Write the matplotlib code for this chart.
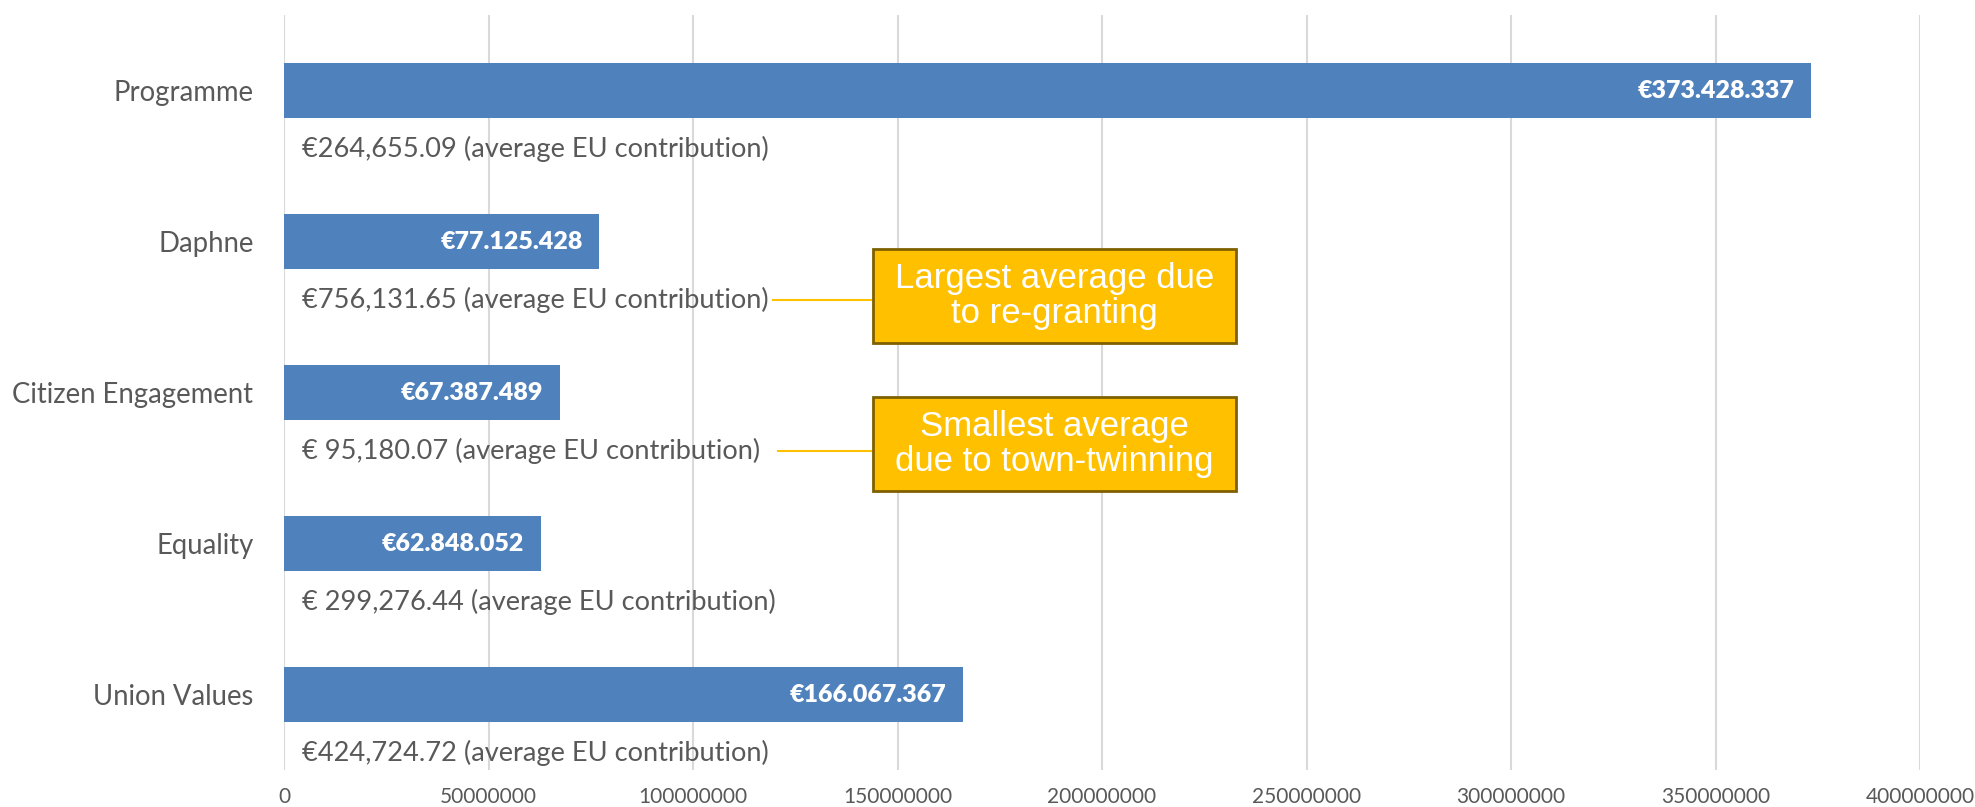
import matplotlib
matplotlib.use('Agg')
import matplotlib.pyplot as plt
from matplotlib.patches import Rectangle

# %% data

categories = ['Programme', 'Daphne', 'Citizen Engagement', 'Equality', 'Union Values']
totals = [373428337, 77125428, 67387489, 62848052, 166067367]
total_labels = ['€373.428.337', '€77.125.428', '€67.387.489', '€62.848.052', '€166.067.367']
avg_labels = ['€264,655.09 (average EU contribution)',
              '€756,131.65 (average EU contribution)',
              '€ 95,180.07 (average EU contribution)',
              '€ 299,276.44 (average EU contribution)',
              '€424,724.72 (average EU contribution)']
xticks = [0, 50000000, 100000000, 150000000, 200000000, 250000000, 300000000, 350000000, 400000000]

# callouts: (category index, text, line start x, box left x, box right x, box top y, box bottom y)
notes = [(1, 'Largest average due\nto re-granting', 119.5e6, 144.0e6, 232.8e6, 1.05, 1.67),
         (2, 'Smallest average\ndue to town-twinning', 120.8e6, 144.0e6, 232.8e6, 2.03, 2.65)]

grey = '#595959'
blue = '#4F81BD'
body_font = 'Lato'

# %% plot

fig = plt.figure(figsize=(19.75, 8.07), dpi=100)
ax = fig.add_axes([0.1438, 0.0458, 0.8284, 0.9356])

ypos = list(range(len(categories)))
ax.barh(ypos, totals, height=0.36, color=blue, zorder=2)

ax.set_xlim(0, 400000000)
ax.set_ylim(4.5, -0.5)

ax.set_xticks(xticks)
ax.set_xticklabels([str(t) for t in xticks], fontsize=15, color=grey, family=body_font)
ax.set_yticks(ypos)
ax.set_yticklabels(categories, fontsize=19.8, color=grey, family=body_font)
ax.tick_params(axis='x', length=0, pad=12)
ax.tick_params(axis='y', length=0, pad=22)
ax.grid(axis='x', color='#D9D9D9', linewidth=1.5, zorder=0)
for s in ax.spines.values():
    s.set_visible(False)

for i in range(len(categories)):
    ax.annotate(total_labels[i], xy=(totals[i], i), xytext=(-12, 0), textcoords='offset points',
                ha='right', va='center', color='white', fontsize=18, fontweight='heavy',
                family=body_font, zorder=3)
    ax.annotate(avg_labels[i], xy=(0, i + 0.384), xytext=(13, 0), textcoords='offset points',
                ha='left', va='center', color=grey, fontsize=19.6, family=body_font, zorder=3)

for idx, txt, x0, bx0, bx1, by0, by1 in notes:
    ly = idx + 0.384
    ax.plot([x0, bx0], [ly, ly], color='#FFC000', linewidth=1.5, zorder=3)
    ax.add_patch(Rectangle((bx0, by0), bx1 - bx0, by1 - by0, facecolor='#FFC000',
                           edgecolor='#7F6000', linewidth=2, zorder=4))
    ax.text((bx0 + bx1) / 2, (by0 + by1) / 2, txt, ha='center', va='center', color='white',
            fontsize=25, family='Liberation Sans', linespacing=1.08, zorder=5)

fig.savefig('out.png', dpi=100)
